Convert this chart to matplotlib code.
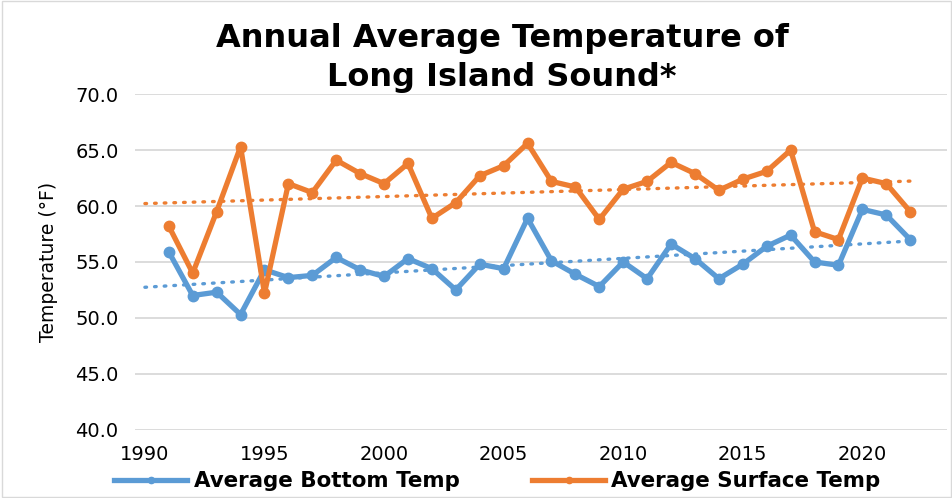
import matplotlib.pyplot as plt
import numpy as np

years = list(range(1991, 2023))

bottom = [55.9, 52.0, 52.3, 50.3, 54.3, 53.6, 53.8, 55.4, 54.3, 53.7,
          55.3, 54.4, 52.5, 54.8, 54.4, 58.9, 55.1, 53.9, 52.8, 55.0,
          53.5, 56.6, 55.3, 53.5, 54.8, 56.4, 57.4, 55.0, 54.7, 59.7,
          59.2, 57.0]

surface = [58.2, 54.0, 59.5, 65.3, 52.2, 62.0, 61.2, 64.1, 62.9, 62.0,
           63.8, 58.9, 60.3, 62.7, 63.6, 65.6, 62.2, 61.7, 58.8, 61.5,
           62.2, 63.9, 62.9, 61.4, 62.4, 63.1, 65.0, 57.7, 57.0, 62.5,
           62.0, 59.5]

blue = '#5B9BD5'
orange = '#ED7D31'

fig = plt.figure(figsize=(9.53, 4.98), dpi=100)
ax = fig.add_axes([0.142, 0.137, 0.852, 0.674])

ax.plot(years, bottom, color=blue, lw=3.8, marker='o', ms=7.5,
        label='Average Bottom Temp', zorder=3)
ax.plot(years, surface, color=orange, lw=3.8, marker='o', ms=7.5,
        label='Average Surface Temp', zorder=3)

# linear trendlines
tx = np.array([1990, 2022.2])
for series, c in [(bottom, blue), (surface, orange)]:
    p = np.polyfit(years, series, 1)
    ax.plot(tx, np.polyval(p, tx), color=c, lw=2.4, ls=(0, (0.5, 2.4)),
            dash_capstyle='round', zorder=2)

ax.set_ylim(40, 70)
ax.set_yticks(np.arange(40, 70.1, 5))
ax.set_yticklabels([f'{v:.1f}' for v in np.arange(40, 70.1, 5)])
ax.set_xlim(1989.6, 2023.55)
ax.set_xticks(range(1990, 2021, 5))
ax.grid(axis='y', color='#D9D9D9', lw=1.3)
ax.set_axisbelow(True)
for s in ax.spines.values():
    s.set_visible(False)
ax.tick_params(length=0, labelsize=14, colors='black')
ax.tick_params(axis='x', pad=11)
ax.tick_params(axis='y', pad=12)
ax.set_ylabel('Temperature (°F)', fontsize=13.5, labelpad=12)

fig.suptitle('Annual Average Temperature of\nLong Island Sound*',
             fontsize=23, fontweight='bold', x=0.527, y=0.953, linespacing=1.3)

fig.legend(loc='lower center', ncol=2, bbox_to_anchor=(0.522, -0.025),
           frameon=False, prop={'weight': 'bold', 'size': 15.4},
           handlelength=3.4, columnspacing=3.4, handletextpad=0.3,
           markerscale=0.6)

fig.patches.append(plt.Rectangle((0.002, 0.002), 0.996, 0.996,
                                 transform=fig.transFigure, fill=False,
                                 edgecolor='#D9D9D9', lw=1))

fig.savefig('out.png', dpi=100)
